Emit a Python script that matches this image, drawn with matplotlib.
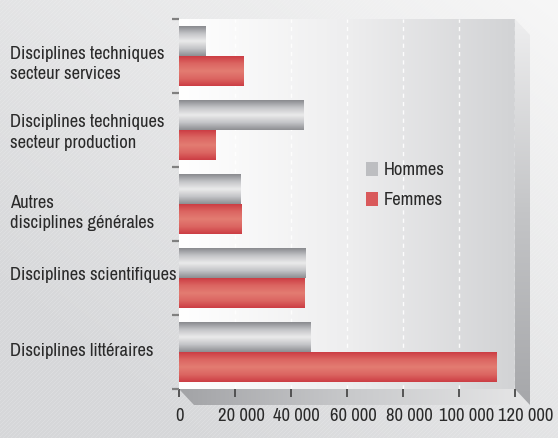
import numpy as np
import matplotlib
matplotlib.use("Agg")
import matplotlib.pyplot as plt
from matplotlib import font_manager
from matplotlib.patches import Polygon, Patch
from matplotlib.transforms import ScaledTranslation
from matplotlib.colors import LinearSegmentedColormap, to_rgb

# ---------------- data ----------------
categories = ["Disciplines techniques\nsecteur services",
              "Disciplines techniques\nsecteur production",
              "Autres\ndisciplines générales",
              "Disciplines scientifiques",
              "Disciplines littéraires"]
hommes = [9300, 44400, 22100, 45100, 46900]
femmes = [22900, 12900, 22500, 44700, 113400]
series_names = ["Hommes", "Femmes"]
xticks = [0, 20000, 40000, 60000, 80000, 100000, 120000]
xtick_labels = ["0", "20 000", "40 000", "60 000", "80 000", "100 000", "120 000"]

# ---------------- fonts ----------------
names = {f.name for f in font_manager.fontManager.ttflist}
FAM, FS = ["Liberation Sans", "DejaVu Sans"], 11.2
for cand, size in (("Archivo Narrow", 13.4), ("Roboto Condensed", 13.0), ("Liberation Sans Narrow", 13.4)):
    if cand in names:
        FAM, FS = [cand, "DejaVu Sans"], size
        break
plt.rcParams["font.family"] = FAM
TXT = "#2a2a2a"

W, H, DPI = 558, 438, 100
fig = plt.figure(figsize=(W / DPI, H / DPI), dpi=DPI)

# ---------------- figure background ----------------
bg = fig.add_axes([0, 0, 1, 1], zorder=-5)
bg.set_xlim(0, W)
bg.set_ylim(H, 0)
bg.axis("off")
yy, xx = np.mgrid[0:H, 0:W]
t = np.clip((xx / W) * 0.6 + (1 - yy / H) * 0.6 - 0.2, 0, 1)
c0 = np.array(to_rgb("#d6d7d9"))
c1 = np.array(to_rgb("#f7f7f7"))
img = c0[None, None, :] * (1 - t[..., None]) + c1[None, None, :] * t[..., None]
stripes = ((xx + yy) % 4 == 0) * 0.025
img = np.clip(img + stripes[..., None] * (1 - t[..., None]), 0, 1)
bg.imshow(img, extent=[0, W, H, 0], aspect="auto", interpolation="bilinear")

L, R, T, B = 179, 515, 19, 389
DX, DY = 15, 16

def grad_poly(axis_, pts, colors, direction="h", z=1):
    poly = Polygon(pts, closed=True, facecolor="none", edgecolor="none", zorder=z)
    axis_.add_patch(poly)
    g = np.linspace(0, 1, 256)
    cm = LinearSegmentedColormap.from_list("g", colors)
    arr = g[None, :] if direction == "h" else g[:, None]
    xs = [p[0] for p in pts]
    ys = [p[1] for p in pts]
    im = axis_.imshow(arr, cmap=cm, extent=[min(xs), max(xs), max(ys), min(ys)],
                      aspect="auto", zorder=z, interpolation="bilinear")
    im.set_clip_path(poly)

# floor
grad_poly(bg, [(L, B), (R, B), (R + DX, B + DY), (L + DX, B + DY)],
          ["#a2a3a6", "#c9cacc", "#e6e6e7"], "h")
# right wall
grad_poly(bg, [(R, T), (R + DX, T + DY), (R + DX, B + DY), (R, B)],
          ["#eeeeef", "#c4c5c7", "#a6a7aa"], "v")

# ---------------- main axes ----------------
ax = fig.add_axes([L / W, 1 - B / H, (R - L) / W, (B - T) / H])
ax.set_facecolor("none")
pgrad = LinearSegmentedColormap.from_list("p", ["#ffffff", "#eeeeef", "#d2d3d5"])
ax.imshow(np.linspace(0, 1, 256)[None, :], cmap=pgrad, extent=[0, 1, 0, 1],
          transform=ax.transAxes, aspect="auto", zorder=0, interpolation="bilinear")

n = len(categories)
y = np.arange(n)
bh = 0.405
off = 0.203

gray_cm = LinearSegmentedColormap.from_list("gr", ["#898a8e", "#c4c5c8", "#ebebeb", "#c4c5c8", "#8d8e92"])
red_cm = LinearSegmentedColormap.from_list("rd", ["#cc3d44", "#dc6662", "#e37c72", "#dc6662", "#cc3d44"])
fillcol = ["#bdbec1", "#d9595b"]

bars_h = ax.barh(y - off, hommes, height=bh, color=fillcol[0], zorder=3, label=series_names[0])
bars_f = ax.barh(y + off, femmes, height=bh, color=fillcol[1], zorder=3, label=series_names[1])
grad = np.linspace(0, 1, 128)[:, None]
for bars, cm in ((bars_h, gray_cm), (bars_f, red_cm)):
    for b in bars:
        x0, y0, w, h = b.get_x(), b.get_y(), b.get_width(), b.get_height()
        im = ax.imshow(grad, cmap=cm, extent=[x0, x0 + w, y0 + h, y0], aspect="auto",
                       zorder=3.5, interpolation="bilinear")
        im.set_clip_path(b)

ax.set_xlim(0, 120000)
ax.set_ylim(n - 0.5, -0.5)

for s in ax.spines.values():
    s.set_visible(False)

# grid
ax.set_xticks(xticks)
ax.set_xticklabels(xtick_labels, fontsize=FS, color=TXT)
ax.grid(axis="x", color="white", linestyle=(0, (3, 3)), linewidth=1.0, alpha=0.9, zorder=1)
ax.set_axisbelow(True)
ax.tick_params(axis="x", length=8 / 1.389, width=1.3, color="#4a4a4a", pad=(19 - 8) / 1.389)

x_offsets_px = [1, 6, 5.5, 6, 6.5, 8, 11]
for lbl, o in zip(ax.get_xticklabels(), x_offsets_px):
    lbl.set_transform(lbl.get_transform() + ScaledTranslation(o / DPI, 0, fig.dpi_scale_trans))

# y labels
ax.set_yticks(y)
ax.set_yticklabels(categories, fontsize=FS, color=TXT, ha="left", linespacing=1.38)
ax.tick_params(axis="y", which="major", length=0, pad=(L - 10) / 1.389)
ax.set_yticks(np.arange(n + 1) - 0.5, minor=True)
ax.tick_params(axis="y", which="minor", length=7 / 1.389, width=1.6, color="#808080")

y_offsets_px = [4, -1, 5, -4.5, -2.5]
for lbl, o in zip(ax.get_yticklabels(), y_offsets_px):
    lbl.set_transform(lbl.get_transform() + ScaledTranslation(0, -o / DPI, fig.dpi_scale_trans))

# legend
leg = ax.legend(handles=[Patch(facecolor=fillcol[0], edgecolor="none"),
                         Patch(facecolor=fillcol[1], edgecolor="none")],
                labels=series_names, frameon=False, fontsize=FS,
                loc="upper left", bbox_to_anchor=((366 - L) / (R - L), 1 - (162 - T) / (B - T)),
                handlelength=0.62, handleheight=0.78, handletextpad=0.35,
                labelspacing=0.72, borderaxespad=0, borderpad=0)
for tx in leg.get_texts():
    tx.set_color(TXT)

fig.savefig("out.png", dpi=DPI)
